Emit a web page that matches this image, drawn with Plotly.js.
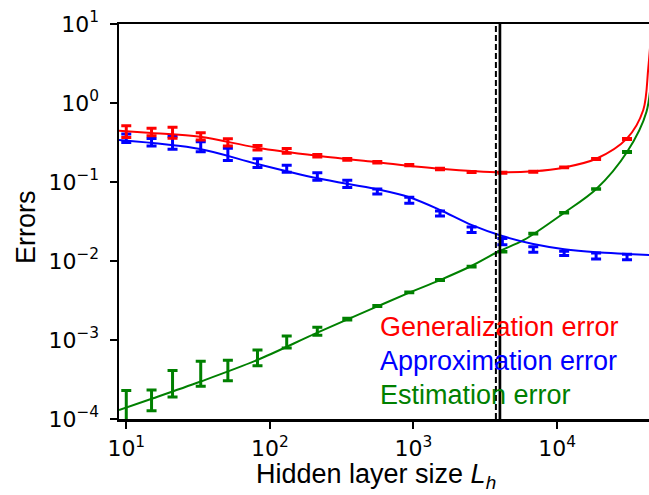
<!DOCTYPE html>
<html>
<head>
<meta charset="utf-8">
<script src="https://cdn.plot.ly/plotly-3.0.1.min.js"></script>
<style>
html,body{margin:0;padding:0;overflow:hidden;background:#fff;}
#chart{width:656px;height:495px;}
</style>
</head>
<body>
<div id="chart"></div>
<script>
// Hidden layer sizes of the measured points
const sizes = [10, 15, 21, 33, 51, 82, 131, 214, 346, 560, 935, 1530, 2540, 4160, 6830, 11200, 18700, 30700];

// Generalization error (mean, error bar)
const genErr = [0.44, 0.432, 0.425, 0.38, 0.32, 0.272, 0.248, 0.215, 0.194, 0.178, 0.163, 0.146, 0.134, 0.131, 0.135, 0.153, 0.195, 0.35];
const genStd = [0.075, 0.047, 0.067, 0.04, 0.034, 0.018, 0.017, 0.008, 0.005, 0.004, 0.003, 0.003, 0.002, 0.002, 0.002, 0.002, 0.003, 0.005];

// Approximation error
const apxErr = [0.36, 0.32, 0.32, 0.283, 0.227, 0.175, 0.148, 0.118, 0.095, 0.076, 0.059, 0.040, 0.025, 0.0176, 0.014, 0.0125, 0.0116, 0.0113];
const apxStd = [0.044, 0.035, 0.06, 0.041, 0.04, 0.022, 0.015, 0.013, 0.01, 0.0055, 0.005, 0.003, 0.002, 0.0016, 0.0011, 0.0008, 0.001, 0.0009];

// Estimation error
const estErr = [1.4e-4, 1.8e-4, 3.0e-4, 4.0e-4, 4.3e-4, 6.1e-4, 9.6e-4, 1.3e-3, 1.84e-3, 2.7e-3, 4.0e-3, 5.75e-3, 8.5e-3, 0.0131, 0.0222, 0.0408, 0.0814, 0.24];
const estStd = [0.9e-4, 0.53e-4, 1.1e-4, 1.4e-4, 1.26e-4, 1.37e-4, 1.66e-4, 1.5e-4, 0.05e-3, 0.04e-3, 0.05e-3, 0.07e-3, 0.1e-3, 0.12e-3, 0.2e-3, 0.35e-3, 0.7e-3, 0.003];

// Fitted curves
const genCurveL = [8.9, 15, 32.6, 81.7, 214, 555, 1531, 4150, 6820, 11220, 18750, 30700, 39840, 43150, 46000];
const genCurveV = [0.447, 0.418, 0.374, 0.272, 0.215, 0.178, 0.147, 0.1327, 0.1365, 0.153, 0.197, 0.357, 0.815, 2.75, 12];
const apxCurveL = [8.9, 32.6, 81.7, 214, 555, 935, 1531, 2530, 4150, 6820, 11220, 18750, 30700, 47000];
const apxCurveV = [0.34, 0.262, 0.169, 0.1114, 0.081, 0.064, 0.0442, 0.0286, 0.0207, 0.0164, 0.0141, 0.0129, 0.0123, 0.0118];
const estCurveL = [8.9, 15.4, 32.6, 81.7, 214, 555, 935, 1531, 2530, 3880, 5880, 11220, 18750, 30700, 41940, 46500];
const estCurveV = [1.30e-4, 1.83e-4, 2.96e-4, 5.58e-4, 1.24e-3, 2.64e-3, 3.97e-3, 5.74e-3, 8.64e-3, 0.0131, 0.01845, 0.0408, 0.0815, 0.240, 0.776, 5];

// Vertical reference lines (dashed, solid)
const refLines = [3750, 4000];

// Tick labels
const xTickVals = [10, 100, 1000, 10000];
const xTickText = ['10<sup>1</sup>', '10<sup>2</sup>', '10<sup>3</sup>', '10<sup>4</sup>'];
const yTickVals = [1e-4, 1e-3, 1e-2, 1e-1, 1, 10];
const yTickText = ['10<sup>\u22124</sup>', '10<sup>\u22123</sup>', '10<sup>\u22122</sup>', '10<sup>\u22121</sup>', '10<sup>0</sup>', '10<sup>1</sup>'];

const seriesNames = ['Generalization error', 'Approximation error', 'Estimation error'];
const colors = ['#ff0000', '#0000ff', '#008000'];

function pts(y, e, c, name) {
  return {
    x: sizes, y: y, type: 'scatter', mode: 'markers', name: name,
    marker: {size: 1, color: 'rgba(0,0,0,0)'},
    error_y: {type: 'data', array: e, visible: true, color: c, thickness: 3, width: 5},
    showlegend: false, cliponaxis: true
  };
}
function curve(x, y, c) {
  return {x: x, y: y, type: 'scatter', mode: 'lines',
    line: {color: c, width: 2, shape: 'spline', smoothing: 0.9}, showlegend: false};
}

const traces = [
  pts(estErr, estStd, colors[2], seriesNames[2]),
  pts(apxErr, apxStd, colors[1], seriesNames[1]),
  pts(genErr, genStd, colors[0], seriesNames[0]),
  curve(estCurveL, estCurveV, colors[2]),
  curve(apxCurveL, apxCurveV, colors[1]),
  curve(genCurveL, genCurveV, colors[0])
];

const W = 656, H = 495, L = 119, R = 0, T = 24, B = 76;
const PW = W - L - R, PH = H - T - B;
const xr = [Math.log10(8.9), Math.log10(8.9) + PW / 143.6];

const shapes = [
  {type: 'line', xref: 'x', yref: 'paper', x0: refLines[0], x1: refLines[0], y0: 0, y1: 1,
   line: {color: '#000', width: 2, dash: '6px,3px'}},
  {type: 'line', xref: 'x', yref: 'paper', x0: refLines[1], x1: refLines[1], y0: 0, y1: 1,
   line: {color: '#000', width: 2.7}}
];

const textFont = 'Liberation Sans, Arial, sans-serif';
const legY = [0.232, 0.147, 0.062];
const annotations = seriesNames.map((n, i) => ({
  text: n, xref: 'paper', yref: 'paper', x: (378 - L) / PW, y: legY[i],
  xanchor: 'left', yanchor: 'middle', showarrow: false,
  font: {family: textFont, size: 27, color: colors[i]}
}));
annotations.push({
  text: 'Hidden layer size <i>L</i><sub><i>h</i></sub>', xref: 'paper', yref: 'paper',
  x: (376 - L) / PW, y: -0.096, xanchor: 'center', yanchor: 'top', showarrow: false,
  font: {family: textFont, size: 27, color: '#000'}
});
annotations.push({
  text: 'Errors', xref: 'paper', yref: 'paper', textangle: -90,
  x: (26 - L) / PW, y: 1 - (227 - T) / PH, xanchor: 'center', yanchor: 'middle', showarrow: false,
  font: {family: textFont, size: 27, color: '#000'}
});

const layout = {
  width: W, height: H,
  margin: {l: L, r: R, t: T, b: B, pad: 0},
  paper_bgcolor: '#fff', plot_bgcolor: '#fff',
  showlegend: false,
  xaxis: {
    type: 'log', range: xr, tickvals: xTickVals, ticktext: xTickText,
    showgrid: false, zeroline: false, showline: true, linecolor: '#000', linewidth: 2.5,
    mirror: true, ticks: 'outside', ticklen: 7, tickwidth: 2, tickcolor: '#000',
    ticklabelstandoff: 1,
    tickfont: {family: 'DejaVu Sans', size: 22, color: '#000'}
  },
  yaxis: {
    type: 'log', range: [-4, 1], tickvals: yTickVals, ticktext: yTickText,
    showgrid: false, zeroline: false, showline: true, linecolor: '#000', linewidth: 2.5,
    mirror: true, ticks: 'outside', ticklen: 7, tickwidth: 2, tickcolor: '#000',
    ticklabelstandoff: 6,
    tickfont: {family: 'DejaVu Sans', size: 22, color: '#000'}
  },
  shapes: shapes,
  annotations: annotations
};

Plotly.newPlot('chart', traces, layout, {displayModeBar: false, staticPlot: true});
</script>
</body>
</html>
